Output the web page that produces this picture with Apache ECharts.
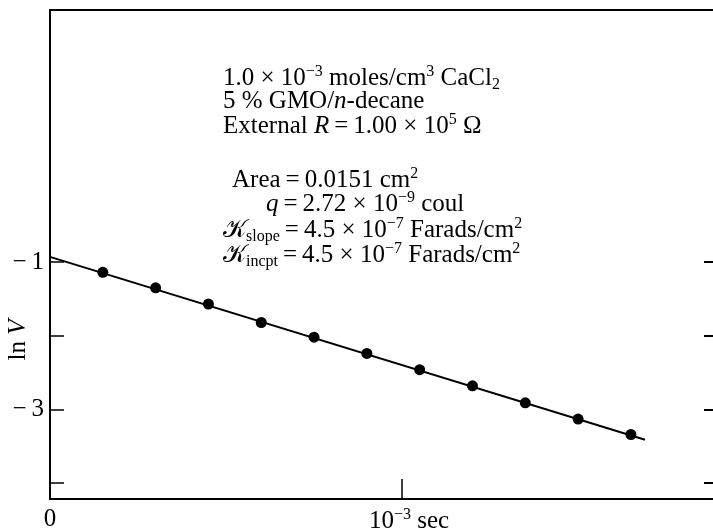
<!DOCTYPE html>
<html><head><meta charset="utf-8">
<script src="https://cdn.jsdelivr.net/npm/echarts@6/dist/echarts.min.js"></script>
<style>html,body{margin:0;padding:0;background:#fff}#c{width:713px;height:530px}</style>
</head><body><div id="c"></div>
<script>
// data (time in 10^-3 s, ln V)
const timeMs = [0.15, 0.30, 0.45, 0.60, 0.75, 0.90, 1.05, 1.20, 1.35, 1.50, 1.65];
const lnV = [-1.14, -1.35, -1.57, -1.82, -2.02, -2.24, -2.46, -2.68, -2.91, -3.13, -3.34];
const fitX = [0, 1.69];
const fitY = [-0.93, -3.41];
const yTickValues = [-1, -2, -3, -4];
const yLabelValues = [-1, -3];
const xTickValues = [1];
const xLabelValues = [0, 1];
const xRange = [0, 1.903];
const yRange = [-4.215, 2.42];
const annotationLines = [
  '1.0 × 10{sup|−3} moles/cm{sup|3} CaCl{sub|2}',
  '5 % GMO/{i|n}-decane',
  'External {i|R}\u2009=\u20091.00 × 10{sup|5} Ω',
  'Area\u2009=\u20090.0151 cm{sup|2}',
  '{i|q}\u2009=\u20092.72 × 10{sup|−9} coul',
  '𝒦{sub|slope}\u2009=\u20094.5 × 10{sup|−7} Farads/cm{sup|2}',
  '𝒦{sub|incpt}\u2009=\u20094.5 × 10{sup|−7} Farads/cm{sup|2}'
];

const FONT = "'Liberation Serif', 'DejaVu Serif', serif";
const chart = echarts.init(document.getElementById('c'), null, {renderer: 'canvas'});

const richText = {
  sup: {fontSize: 16, lineHeight: 15, verticalAlign: 'top', fontFamily: FONT, fill: '#000', color: '#000'},
  sub: {fontSize: 16, lineHeight: 15, verticalAlign: 'bottom', fontFamily: FONT, fill: '#000', color: '#000'},
  i: {fontSize: 25, lineHeight: 29, fontStyle: 'italic', fontFamily: FONT, fill: '#000', color: '#000'}
};
const annPos = [[223, 78], [223, 101], [223, 126], [232, 180], [266, 204], [223, 230], [223, 255]];

const graphics = annotationLines.map((t, k) => ({
  type: 'text', x: annPos[k][0], y: annPos[k][1],
  style: {text: t, rich: richText, fontSize: 25, lineHeight: 29, fontFamily: FONT, fill: '#000', verticalAlign: 'middle', align: 'left'}
}));
graphics.push({
  type: 'text', x: 18, y: 340, rotation: Math.PI / 2,
  style: {text: 'ln {i|V}', rich: richText, fontSize: 25, lineHeight: 29, fontFamily: FONT, fill: '#000', align: 'center', verticalAlign: 'middle'}
});

const axisLabelStyle = {color: '#000', fontFamily: FONT, fontSize: 25};

chart.setOption({
  animation: false,
  backgroundColor: '#fff',
  grid: {left: 50, top: 10, width: 670, bottom: 31, containLabel: false, outerBoundsMode: 'none',
    show: true, borderColor: '#000', borderWidth: 2, backgroundColor: 'transparent'},
  xAxis: {
    type: 'value', min: xRange[0], max: xRange[1],
    axisLine: {show: true, onZero: false, lineStyle: {color: '#000', width: 2}},
    axisTick: {show: true, inside: true, length: 20, customValues: xTickValues, lineStyle: {color: '#000', width: 1.5}},
    axisLabel: {
      show: true, customValues: xLabelValues, margin: 8, ...axisLabelStyle,
      formatter: v => v === 0 ? '0' : '{nl|10}{sup|−3}{n| sec}',
      rich: {
        nl: {fontSize: 25, lineHeight: 29, fontFamily: FONT, color: '#000', padding: [0, 0, 0, 14]},
        n: {fontSize: 25, lineHeight: 29, fontFamily: FONT, color: '#000'},
        sup: {fontSize: 16, lineHeight: 15, verticalAlign: 'top', fontFamily: FONT, color: '#000'}
      }
    },
    splitLine: {show: false}
  },
  yAxis: [{
    type: 'value', min: yRange[0], max: yRange[1], position: 'left',
    axisLine: {show: true, onZero: false, lineStyle: {color: '#000', width: 2}},
    axisTick: {show: true, inside: true, length: 14, customValues: yTickValues, lineStyle: {color: '#000', width: 1.5}},
    axisLabel: {show: true, customValues: yLabelValues, margin: 6, ...axisLabelStyle,
      formatter: v => '−\u20091'.replace('1', String(Math.abs(v)))},
    splitLine: {show: false}
  }, {
    type: 'value', min: yRange[0], max: yRange[1], position: 'right',
    axisLine: {show: false, onZero: false},
    axisTick: {show: true, inside: true, length: 16, customValues: yTickValues, lineStyle: {color: '#000', width: 2}},
    axisLabel: {show: false},
    splitLine: {show: false}
  }],
  graphic: graphics,
  series: [{
    type: 'line', data: fitX.map((x, k) => [x, fitY[k]]), showSymbol: false, symbol: 'none',
    lineStyle: {color: '#000', width: 2}, silent: true, z: 2
  }, {
    type: 'scatter', data: timeMs.map((x, k) => [x, lnV[k]]), symbol: 'circle', symbolSize: 11,
    itemStyle: {color: '#000', opacity: 1}, z: 3
  }]
});
</script>
</body></html>
